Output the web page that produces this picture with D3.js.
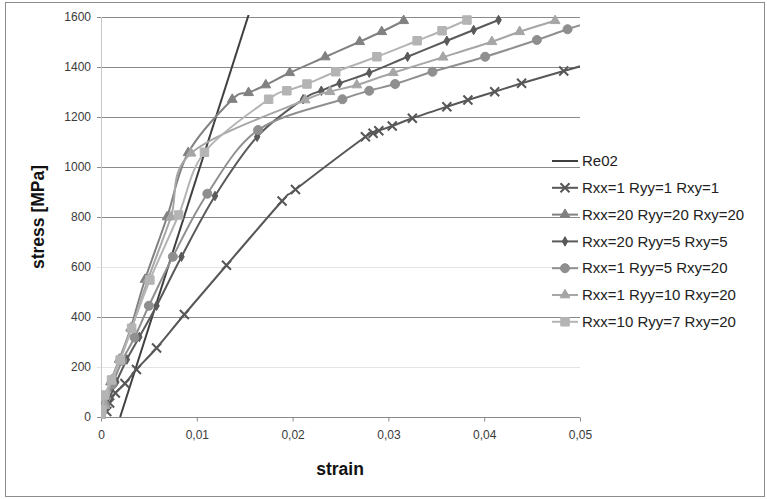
<!DOCTYPE html>
<html>
<head>
<meta charset="utf-8">
<script src="https://cdnjs.cloudflare.com/ajax/libs/d3/7.8.5/d3.min.js"></script>
<style>
body{margin:0;background:#fff;}
svg{display:block;font-family:"Liberation Sans",Arial,sans-serif;}
</style>
</head>
<body>
<div id="chart"></div>
<script>
// strain / stress values
let re02Strain=[0.002,0.0156]
let re02Stress=[0,1632]

let r1Strain=[0,0.0006,0.0009,0.0015,0.0025,0.0037,0.0058,0.0087,0.0131,0.0189,0.0203,0.0276,0.0284,0.029,0.0304,0.0325,0.0361,0.0383,0.0411,0.0439,0.0483,0.0528]
let r1Stress=[0,22,56,96,134,190,276,410,607,864,910,1121,1135,1145,1164,1195,1241,1268,1301,1335,1384,1433]

let r2Strain=[0,0.0004,0.001,0.0019,0.0031,0.0046,0.0069,0.0091,0.0137,0.0154,0.0172,0.0197,0.0234,0.027,0.0293,0.0316]
let r2Stress=[0,60,140,230,355,550,800,1057,1270,1297,1328,1377,1440,1501,1541,1585]

let r3Strain=[0,0.0006,0.0016,0.0027,0.004,0.0058,0.0084,0.0119,0.0163,0.0211,0.023,0.0249,0.028,0.032,0.0361,0.0389,0.0415]
let r3Stress=[0,50,140,230,320,445,641,884,1121,1271,1305,1335,1377,1441,1505,1548,1588]

let r4Strain=[0,0.0004,0.0012,0.0022,0.0035,0.005,0.0075,0.0111,0.0164,0.0252,0.028,0.0307,0.0346,0.0401,0.0455,0.0487,0.052]
let r4Stress=[0,50,130,225,318,445,641,893,1148,1271,1305,1332,1381,1441,1508,1551,1590]

let r5Strain=[0,0.0004,0.0011,0.002,0.0032,0.0049,0.0073,0.0094,0.0213,0.0239,0.0267,0.0305,0.0357,0.0408,0.0437,0.0474]
let r5Stress=[0,45,148,230,355,550,800,1055,1268,1301,1328,1377,1439,1501,1541,1585]

let r6Strain=[0,0.0001,0.0004,0.0011,0.002,0.0032,0.0051,0.0081,0.0108,0.0175,0.0194,0.0215,0.0245,0.0288,0.033,0.0356,0.0382]
let r6Stress=[0,28,88,148,228,355,548,808,1059,1271,1305,1332,1381,1441,1505,1545,1588]

let seriesNames=['Re02','Rxx=1 Ryy=1 Rxy=1','Rxx=20 Ryy=20 Rxy=20','Rxx=20 Ryy=5 Rxy=5','Rxx=1 Ryy=5 Rxy=20','Rxx=1 Ryy=10 Rxy=20','Rxx=10 Ryy=7 Rxy=20']
let xTicks=[0,0.01,0.02,0.03,0.04,0.05]
let xTickLabels=['0','0,01','0,02','0,03','0,04','0,05']
let yTicks=[0,200,400,600,800,1000,1200,1400,1600]

let seriesStyle=[
	{strain:re02Strain,stress:re02Stress,color:'#404040',marker:null},
	{strain:r1Strain,stress:r1Stress,color:'#575757',marker:'x'},
	{strain:r2Strain,stress:r2Stress,color:'#818181',marker:'triangle'},
	{strain:r3Strain,stress:r3Stress,color:'#5a5a5a',marker:'diamond'},
	{strain:r4Strain,stress:r4Stress,color:'#8f8f8f',marker:'circle'},
	{strain:r5Strain,stress:r5Stress,color:'#a6a6a6',marker:'triangle'},
	{strain:r6Strain,stress:r6Stress,color:'#b4b4b4',marker:'square'}
]

let xscale=d3.scaleLinear().domain([0,0.05]).range([101,580])
let yscale=d3.scaleLinear().domain([0,1600]).range([417,17])

let svg=d3.select('#chart').append('svg')
	.attr('width',767)
	.attr('height',499)

svg.append('rect')
	.attr('x',5.5).attr('y',2.5)
	.attr('width',759).attr('height',494)
	.attr('fill','#fff')
	.attr('stroke','#8c8c8c')
	.attr('stroke-width',1)

// gridlines (200 and 600 come out pale in the original)
svg.append('g').selectAll('line')
	.data(yTicks.filter(d=>d>0))
	.enter().append('line')
	.attr('x1',97).attr('x2',580)
	.attr('y1',d=>Math.round(yscale(d))+0.5)
	.attr('y2',d=>Math.round(yscale(d))+0.5)
	.attr('stroke',d=>(d==200||d==600)?'#e4e4e4':'#8a8a8a')
	.attr('stroke-width',1)

// y axis line
svg.append('line')
	.attr('x1',101.5).attr('x2',101.5)
	.attr('y1',17).attr('y2',418)
	.attr('stroke','#c8c8c8')

// x axis
let x_axis=d3.axisBottom(xscale).tickValues(xTicks).tickSize(4).tickFormat((d,i)=>xTickLabels[i])
let gx=svg.append('g').attr('transform','translate(0,417.5)').call(x_axis)
gx.select('.domain').attr('stroke','#8a8a8a').attr('d','M97,0H580')
gx.selectAll('.tick line').attr('stroke','#8a8a8a')
gx.selectAll('.tick text')
	.attr('y',17)
	.attr('dy','0.35em')
	.style('font-size','12px')
	.style('font-family','"Liberation Sans",Arial,sans-serif')
	.attr('fill','#3a3a3a')

// y tick labels
svg.append('g').selectAll('text')
	.data(yTicks)
	.enter().append('text')
	.attr('x',91)
	.attr('y',d=>yscale(d))
	.attr('dy','0.35em')
	.attr('text-anchor','end')
	.style('font-size','12px')
	.attr('fill','#3a3a3a')
	.text(d=>d)

svg.append('defs').append('clipPath').attr('id','plotClip')
	.append('rect').attr('x',101).attr('y',15).attr('width',479).attr('height',404)

let line=d3.line()
	.x(d=>xscale(d[0]))
	.y(d=>yscale(d[1]))
	.curve(d3.curveCatmullRom.alpha(0))

function markerPath(type){
	if(type=='x') return 'M-4.5,-4.5L4.5,4.5M-4.5,4.5L4.5,-4.5'
	if(type=='triangle') return d3.symbol(d3.symbolTriangle,42)()
	if(type=='diamond') return d3.symbol(d3.symbolDiamond,26)()
	if(type=='circle') return d3.symbol(d3.symbolCircle,64)()
	if(type=='square') return d3.symbol(d3.symbolSquare,72)()
	return null
}
function drawMarker(g,type,color){
	let p=g.append('path').attr('d',markerPath(type))
	if(type=='x'){
		p.attr('fill','none').attr('stroke',color).attr('stroke-width',2)
	}else{
		p.attr('fill',color).attr('stroke',color).attr('stroke-width',1)
	}
}

let plot=svg.append('g').attr('clip-path','url(#plotClip)')
seriesStyle.forEach(function(s){
	let pts=s.strain.map((d,i)=>[d,s.stress[i]])
	plot.append('path')
		.datum(pts)
		.attr('fill','none')
		.attr('stroke',s.color)
		.attr('stroke-width',2)
		.attr('d',line)
	if(s.marker){
		let mg=plot.append('g')
		pts.forEach(function(p){
			let g=mg.append('g').attr('transform','translate('+xscale(p[0])+','+yscale(p[1])+')')
			drawMarker(g,s.marker,s.color)
		})
	}
})

// legend
let legend=svg.append('g')
seriesStyle.forEach(function(s,i){
	let ly=161+i*26.8
	legend.append('line')
		.attr('x1',552).attr('x2',578)
		.attr('y1',ly).attr('y2',ly)
		.attr('stroke',s.color)
		.attr('stroke-width',2)
	if(s.marker){
		let g=legend.append('g').attr('transform','translate(565,'+ly+')')
		drawMarker(g,s.marker,s.color)
	}
	legend.append('text')
		.attr('x',582)
		.attr('y',ly)
		.attr('dy','0.35em')
		.style('font-size','15px')
		.attr('fill','#222')
		.text(seriesNames[i])
})

// axis titles
svg.append('text')
	.attr('x',340)
	.attr('y',469)
	.attr('dy','0.35em')
	.attr('text-anchor','middle')
	.style('font-size','17.5px')
	.style('font-weight','bold')
	.attr('fill','#111')
	.text('strain')
svg.append('text')
	.attr('transform','rotate(-90)')
	.attr('x',-217)
	.attr('y',38)
	.attr('dy','0.35em')
	.attr('text-anchor','middle')
	.style('font-size','17.5px')
	.style('font-weight','bold')
	.attr('fill','#111')
	.text('stress [MPa]')
</script>
</body>
</html>
